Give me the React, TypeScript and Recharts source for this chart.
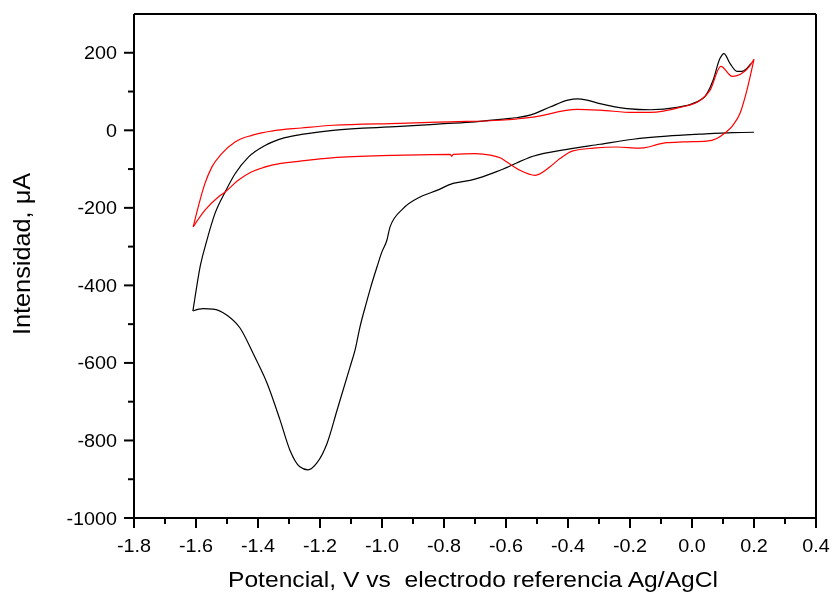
import { LineChart, Line, XAxis, YAxis, ReferenceLine } from 'recharts';

// black scan: cathodic branch (0.2 V -> -1.61 V) then anodic branch back to 0.2 V
const blackCathodic: [number, number][] = [
  [0.2, -5], [0.132, -6], [0.026, -10], [-0.081, -15], [-0.19, -23], [-0.297, -36],
  [-0.403, -49], [-0.513, -67], [-0.619, -103], [-0.684, -122], [-0.716, -129],
  [-0.771, -137], [-0.823, -155], [-0.877, -172], [-0.932, -202], [-0.974, -249],
  [-0.984, -283], [-1.0, -313], [-1.016, -352], [-1.039, -412], [-1.048, -438],
  [-1.071, -507], [-1.087, -567], [-1.103, -610], [-1.145, -722], [-1.177, -807],
  [-1.21, -858], [-1.239, -876], [-1.265, -868], [-1.297, -825], [-1.329, -747],
  [-1.371, -652], [-1.416, -575], [-1.458, -510], [-1.5, -477], [-1.545, -461],
  [-1.577, -460], [-1.61, -466]
];

const blackAnodic: [number, number][] = [
  [-1.61, -466], [-1.603, -430], [-1.587, -353], [-1.565, -284], [-1.539, -215],
  [-1.506, -159], [-1.474, -112], [-1.431, -69], [-1.377, -39], [-1.313, -19],
  [-1.254, -10], [-1.158, 0], [-0.942, 10], [-0.8, 17], [-0.7, 22], [-0.619, 28],
  [-0.523, 39], [-0.458, 60], [-0.4, 78], [-0.37, 81], [-0.339, 78], [-0.297, 69],
  [-0.21, 56], [-0.135, 53], [-0.048, 59], [0.035, 82], [0.068, 129], [0.09, 185],
  [0.103, 198], [0.123, 172], [0.145, 152], [0.161, 152], [0.19, 172]
];

// red scan: anodic branch (-1.61 V -> 0.2 V) then cathodic branch back
const redAnodic: [number, number][] = [
  [-1.609, -249], [-1.593, -198], [-1.571, -137], [-1.549, -95], [-1.517, -60],
  [-1.474, -30], [-1.42, -13], [-1.356, -2], [-1.259, 6], [-1.158, 13], [-0.942, 18],
  [-0.78, 22], [-0.619, 26], [-0.513, 34], [-0.371, 54], [-0.297, 52], [-0.19, 46],
  [-0.135, 46], [-0.039, 59], [0.026, 77], [0.058, 103], [0.093, 165], [0.13, 139],
  [0.145, 141], [0.187, 167], [0.2, 183]
];

const redCathodic: [number, number][] = [
  [0.2, 183], [0.177, 103], [0.155, 44], [0.132, 13], [0.106, -7], [0.08, -21],
  [0.047, -28], [-0.028, -30], [-0.082, -32], [-0.114, -37], [-0.14, -43], [-0.168, -46],
  [-0.243, -43], [-0.318, -46], [-0.384, -53], [-0.426, -73], [-0.458, -94],
  [-0.506, -116], [-0.555, -103], [-0.597, -82], [-0.619, -71], [-0.65, -64], [-0.7, -60],
  [-0.77, -62], [-0.775, -67], [-0.78, -62], [-0.932, -64], [-1.145, -70],
  [-1.259, -79], [-1.356, -90], [-1.42, -107], [-1.464, -129], [-1.506, -159],
  [-1.528, -172], [-1.571, -206], [-1.609, -249]
];

const xTicks = [-1.8, -1.7, -1.6, -1.5, -1.4, -1.3, -1.2, -1.1, -1.0, -0.9, -0.8, -0.7,
  -0.6, -0.5, -0.4, -0.3, -0.2, -0.1, 0, 0.1, 0.2, 0.3, 0.4];
const yTicks = [-1000, -900, -800, -700, -600, -500, -400, -300, -200, -100, 0, 100, 200];

// monotone curves want increasing x, so cathodic branches are drawn reversed
const toPoints = (pts: [number, number][]) => {
  const rows = pts.map(([v, i]) => ({ v, i }));
  return rows[0].v > rows[rows.length - 1].v ? rows.reverse() : rows;
};

const branches = [
  { data: toPoints(blackCathodic), color: '#000000' },
  { data: toPoints(blackAnodic), color: '#000000' },
  { data: toPoints(redAnodic), color: '#ff0000' },
  { data: toPoints(redCathodic), color: '#ff0000' }
];

const font = '"Liberation Sans", Arial, sans-serif';

const XTick = (props: any) => {
  const { x, y, payload } = props;
  const v = payload.value;
  const major = Math.abs(v * 5 - Math.round(v * 5)) < 1e-6;
  return (
    <g>
      <line x1={x} x2={x} y1={y} y2={y + (major ? 10 : 6)} stroke="#000" strokeWidth={2} />
      {major && (
        <text
          transform={`translate(${x},${y + 34}) scale(1.1,1)`}
          textAnchor="middle"
          fontSize={18}
          fontFamily={font}
          fill="#000"
        >
          {v.toFixed(1)}
        </text>
      )}
    </g>
  );
};

const YTick = (props: any) => {
  const { x, y, payload } = props;
  const v = payload.value;
  const major = v % 200 === 0;
  return (
    <g>
      <line x1={x} x2={x - (major ? 10 : 6)} y1={y} y2={y} stroke="#000" strokeWidth={2} />
      {major && (
        <text
          transform={`translate(${x - 17},${y + 6.5}) scale(1.1,1)`}
          textAnchor="end"
          fontSize={18}
          fontFamily={font}
          fill="#000"
        >
          {v}
        </text>
      )}
    </g>
  );
};

const XLabel = () => (
  <text
    transform="translate(465,579) scale(1.12,1)"
    textAnchor="middle"
    fontSize={22}
    fontFamily={font}
    fill="#000"
  >
    Potencial, V vs{'\u00a0'} electrodo referencia Ag/AgCl
  </text>
);

const YLabel = () => (
  <text
    transform="translate(22,246) rotate(-90) scale(1.1,1)"
    textAnchor="middle"
    fontSize={23}
    fontFamily={font}
    fill="#000"
  >
    Intensidad, μA
  </text>
);

export default function App() {
  return (
    <div style={{ position: 'fixed', left: 8, top: 8 }}>
      <style>{'.recharts-surface { overflow: visible; }'}</style>
      <LineChart width={824} height={588} margin={{ top: 6, right: 16, bottom: 0, left: 0 }}>
        <XAxis
          dataKey="v"
          type="number"
          domain={[-1.8, 0.4]}
          ticks={xTicks}
          interval={0}
          height={78}
          tickSize={0}
          tickMargin={0}
          tickLine={false}
          tick={<XTick />}
          axisLine={{ stroke: '#000', strokeWidth: 2 }}
          allowDataOverflow
          allowDuplicatedCategory={false}
          label={<XLabel />}
        />
        <YAxis
          dataKey="i"
          type="number"
          domain={[-1000, 300]}
          ticks={yTicks}
          interval={0}
          width={126}
          tickSize={0}
          tickMargin={0}
          tickLine={false}
          tick={<YTick />}
          axisLine={{ stroke: '#000', strokeWidth: 2 }}
          allowDataOverflow
          label={<YLabel />}
        />
        <ReferenceLine y={300} stroke="#000" strokeWidth={2} />
        <ReferenceLine x={0.4} stroke="#000" strokeWidth={2} />
        {branches.map((b, k) => (
          <Line
            key={k}
            data={b.data}
            dataKey="i"
            type="monotone"
            stroke={b.color}
            strokeWidth={1.2}
            dot={false}
            activeDot={false}
            isAnimationActive={false}
          />
        ))}
      </LineChart>
    </div>
  );
}
